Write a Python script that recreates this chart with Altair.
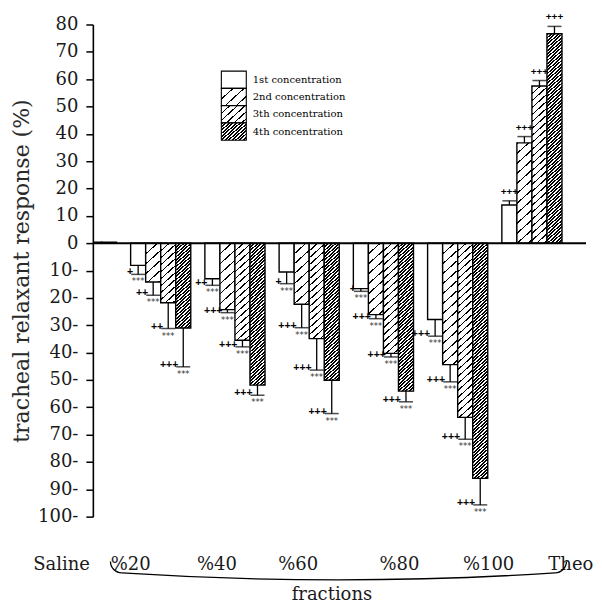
import math
import altair as alt
import pandas as pd

# ---------------- data ----------------
groups = ["Saline", "%20", "%40", "%60", "%80", "%100", "Theo"]
concentrations = ["1st concentration", "2nd concentration",
                  "3th concentration", "4th concentration"]

resp_1st = [0.4, -8.1, -13.0, -10.5, -16.6, -27.9, 14.0]
resp_2nd = [0.4, -14.2, -24.3, -22.3, -26.1, -44.4, 36.7]
resp_3rd = [0.4, -21.8, -35.5, -34.9, -40.3, -63.7, 57.5]
resp_4th = [0.4, -31.0, -51.9, -50.1, -54.1, -86.0, 76.6]

sem_1st = [0.0, 3.3, 2.4, 4.3, 1.0, 6.1, 1.5]
sem_2nd = [0.0, 4.8, 1.1, 8.6, 1.5, 6.3, 2.3]
sem_3rd = [0.0, 9.4, 2.4, 11.5, 1.3, 8.0, 2.0]
sem_4th = [0.0, 14.2, 3.7, 12.2, 3.9, 9.7, 2.7]

plus_1st = ["", "+", "++", "+", "+", "+++", "+++"]
plus_2nd = ["", "++", "+++", "+++", "+++", "+++", "+++"]
plus_3rd = ["", "++", "+++", "+++", "+++", "+++", "+++"]
plus_4th = ["", "+++", "+++", "+++", "+++", "+++", "+++"]
star_marks = ["", "***", "***", "***", "***", "***", ""]

y_ticks = list(range(-100, 81, 10))

rows = []
for conc, rs, ss, ps in zip(concentrations,
                            [resp_1st, resp_2nd, resp_3rd, resp_4th],
                            [sem_1st, sem_2nd, sem_3rd, sem_4th],
                            [plus_1st, plus_2nd, plus_3rd, plus_4th]):
    for i, g in enumerate(groups):
        rows.append({"group": g, "conc": conc, "resp": rs[i], "sem": ss[i],
                     "plus": ps[i], "star": star_marks[i]})
df = pd.DataFrame(rows)
legend_df = pd.DataFrame({"conc": concentrations})

# ---------------- layout / style constants ----------------
W, H = 494, 493
PX = H / 180.0
R0, R1 = -43.6, 477.0
PAD_IN = 0.19
STEP = (R1 - R0) / len(groups)
BW = STEP * (1 - PAD_IN) / 4.0
K = 1.1            # hatch slope factor
L = 290.0          # gradient length (px along x + K*y)


def stripe_stops(period, thick):
    stops = []
    s = 0.0
    while s < L:
        a = s / L
        b = min((s + thick) / L, 1.0)
        e = min((s + period) / L, 1.0)
        stops += [{"offset": round(a, 5), "color": "#000000"},
                  {"offset": round(b, 5), "color": "#000000"},
                  {"offset": round(b, 5), "color": "#ffffff"},
                  {"offset": round(e, 5), "color": "#ffffff"}]
        s += period
    return stops


hatch2 = alt.param(name="hatch2", value=stripe_stops(11.0, 1.6))
hatch3 = alt.param(name="hatch3", value=stripe_stops(7.7, 1.6))
hatch4 = alt.param(name="hatch4", value=stripe_stops(3.6, 2.0))


def pattern_expr(w, h):
    """hatched fill as a bounding-box gradient for a rect w px wide, h px tall"""
    den = f"({w}*{w} + {K*K:.4f}*{h}*{h})"
    return ("datum.conc == '1st concentration' ? '#ffffff' : "
            "{'gradient': 'linear', 'x1': 0, 'y1': 0, "
            f"'x2': {L:.1f}*{w}/{den}, 'y2': {L*K:.4f}*{h}/{den}, "
            "'stops': (datum.conc == '2nd concentration' ? hatch2 : "
            "(datum.conc == '3th concentration' ? hatch3 : hatch4))}")


serif = "DejaVu Serif"
txt = "#1a1a1a"
label_shift = ("[-25,-30,-18,-11,16,31,39][indexof(['Saline','%20','%40','%60','%80',"
               "'%100','Theo'], datum.value)]")

x_scale = alt.Scale(domain=groups, range=[R0, R1], paddingInner=PAD_IN, paddingOuter=PAD_IN / 2)
xo_scale = alt.Scale(domain=concentrations, paddingInner=0, paddingOuter=0)
y_scale = alt.Scale(domain=[-100, 80], nice=False, zero=False)

x_axis = alt.Axis(orient="bottom", domain=False, ticks=False, grid=False, labelAngle=0,
                  labelPadding=39, labelFont=serif, labelFontSize=18, labelColor=txt,
                  labelOffset=alt.ExprRef(expr=label_shift),
                  title="fractions", titleFont=serif, titleFontSize=18,
                  titleFontWeight="normal", titleColor=txt,
                  titleX=239, titleY=83, titleBaseline="alphabetic", titleAnchor="middle")
y_axis = alt.Axis(values=y_ticks, grid=False,
                  labelExpr="datum.value < 0 ? (-datum.value) + '-' : datum.label",
                  domainColor="black", domainWidth=1.6, tickColor="black", tickWidth=1.5,
                  tickSize=7, labelPadding=8, labelFont=serif, labelFontSize=18,
                  labelColor=txt, title="tracheal relaxant response (%)",
                  titleFont=serif, titleFontSize=22, titleFontWeight="normal",
                  titleColor="#2a2a2a", titlePadding=4)

base = alt.Chart(df)


def X():
    return alt.X("group:N", sort=groups, scale=x_scale, axis=x_axis)


def Y(field):
    return alt.Y(field, scale=y_scale, axis=y_axis)


XO = alt.XOffset("conc:N", sort=concentrations, scale=xo_scale)

bars = base.transform_calculate(
    hp=f"abs(datum.resp)*{PX:.5f}"
).transform_calculate(
    pat=pattern_expr(f"{BW:.4f}", "datum.hp")
).mark_bar(stroke="black", strokeWidth=1.4, clip=True).encode(
    x=X(), xOffset=XO, y=Y("resp:Q"),
    fill=alt.Fill("pat:N", scale=None),
)

err_base = base.transform_filter("datum.sem > 0").transform_calculate(
    err="datum.resp + (datum.resp < 0 ? -1 : 1) * datum.sem")

err_rule = err_base.mark_rule(color="black", strokeWidth=1.3).encode(
    x=X(), xOffset=XO, y=Y("resp:Q"), y2="err:Q")

err_cap = err_base.mark_tick(color="black", thickness=1.5, size=14).encode(
    x=X(), xOffset=XO, y=Y("err:Q"))

plus_neg = err_base.transform_filter("datum.resp < 0").mark_text(
    align="right", baseline="middle", dx=-5, dy=-2, font="Liberation Sans",
    fontWeight="bold", fontSize=10.5, color="black", opacity=0.99).encode(
    x=X(), xOffset=XO, y=Y("err:Q"), text="plus:N")

plus_pos = err_base.transform_filter("datum.resp > 0").mark_text(
    align="center", baseline="bottom", dy=-4, font="Liberation Sans",
    fontWeight="bold", fontSize=10, color="black", opacity=0.99).encode(
    x=X(), xOffset=XO, y=Y("err:Q"), text="plus:N")

star_txt = err_base.transform_filter("datum.resp < 0").mark_text(
    align="center", baseline="top", dy=3, font="DejaVu Sans", fontSize=8.5,
    color="#333333", opacity=0.99).encode(
    x=X(), xOffset=XO, y=Y("err:Q"), text="star:N")

one = alt.Data(values=[{}])
zero_line = alt.Chart(one).mark_rule(color="black", strokeWidth=2).encode(
    x=alt.value(0), x2=alt.value(W), y=alt.YDatum(0, scale=y_scale, axis=y_axis))

# curly brace under the fraction groups: a shallow arc with two curled ends
BR = 3367.0
BA = math.asin(217.0 / BR)
brace_mid = alt.Chart(one).mark_arc(
    radius=BR, radius2=BR - 1.3, theta=math.pi - BA, theta2=math.pi + BA,
    color="black").encode(x=alt.value(246), y=alt.value(557 - BR))
brace_left = alt.Chart(one).mark_arc(
    radius=12, radius2=10.7, theta=math.pi, theta2=1.5 * math.pi,
    color="black").encode(x=alt.value(29), y=alt.value(538))
brace_right = alt.Chart(one).mark_arc(
    radius=12, radius2=10.7, theta=0.5 * math.pi, theta2=math.pi,
    color="black").encode(x=alt.value(463), y=alt.value(538))

main = alt.layer(bars, err_rule, err_cap, plus_neg, plus_pos, star_txt, zero_line,
                 brace_mid, brace_left, brace_right)

# ---------------- legend (drawn as its own layer) ----------------
LX, LY, LW, LH = 128.7, 46.7, 25.0, 17.3
leg_y = alt.Y("conc:N", sort=concentrations, axis=None,
              scale=alt.Scale(domain=concentrations, range=[LY, LY + 4 * LH],
                              paddingInner=0, paddingOuter=0))
leg_base = alt.Chart(legend_df)
leg_boxes = leg_base.transform_calculate(
    pat=pattern_expr(f"{LW}", f"{LH}")
).mark_rect(stroke="black", strokeWidth=1.1).encode(
    x=alt.value(LX), x2=alt.value(LX + LW), y=leg_y,
    fill=alt.Fill("pat:N", scale=None))
leg_text = leg_base.mark_text(align="left", baseline="middle", font=serif,
                              fontSize=10, color="black").encode(
    x=alt.value(LX + LW + 6.5), y=leg_y, text="conc:N")
legend = alt.layer(leg_boxes, leg_text)

chart = alt.layer(main, legend).resolve_scale(y="independent").add_params(
    hatch2, hatch3, hatch4).properties(
    width=W, height=H, background="white",
    autosize=alt.AutoSizeParams(type="none"),
    padding={"left": 85, "top": 16, "right": 8, "bottom": 86},
).configure_view(stroke=None)

chart.save("out.html", embed_options={"renderer": "svg", "actions": False})
